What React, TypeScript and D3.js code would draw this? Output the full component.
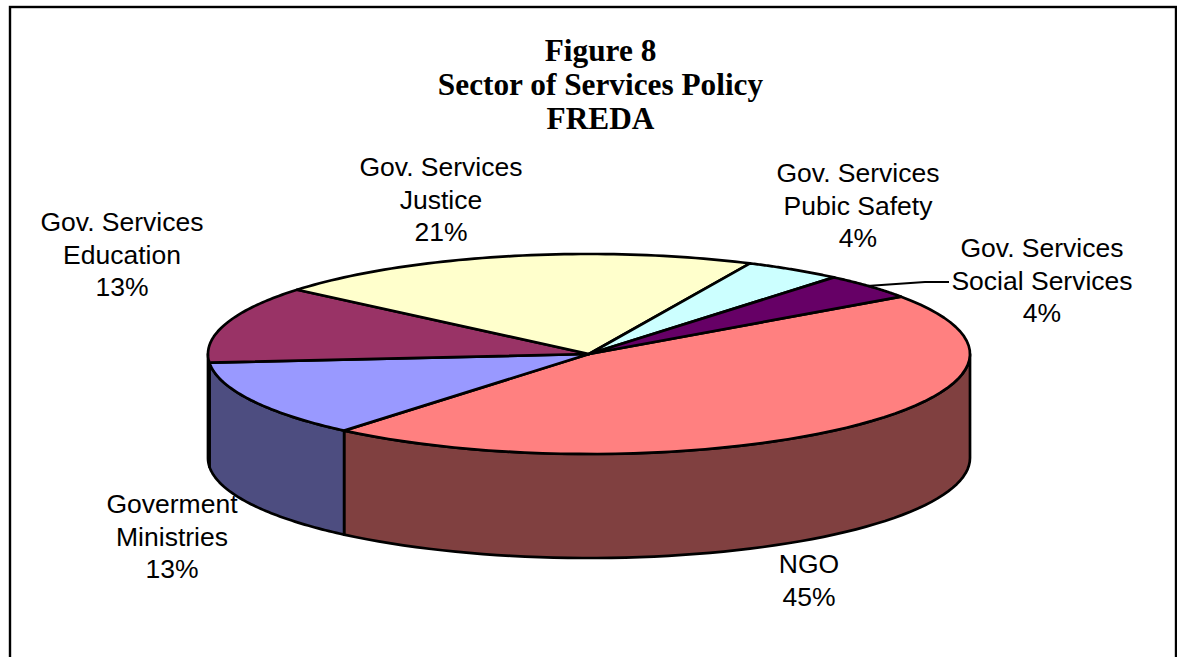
import React from "react";
import * as d3 from "d3";

const titleLines = ["Figure 8", "Sector of Services Policy", "FREDA"];
const categories = [
  ["NGO"],
  ["Goverment", "Ministries"],
  ["Gov. Services", "Education"],
  ["Gov. Services", "Justice"],
  ["Gov. Services", "Pubic Safety"],
  ["Gov. Services", "Social Services"],
];
const sliceShares = [11, 3, 3, 5, 1, 1];
const percentLabels = ["45%", "13%", "13%", "21%", "4%", "4%"];
const topColors = ["#FF8080", "#9999FF", "#993366", "#FFFFCC", "#CCFFFF", "#660066"];
const wallColors = ["#804040", "#4D4D80", "#4D1A33", "#808066", "#668080", "#330033"];

const W = 1177, H = 657;
const cx = 589, cy = 354, rx = 381, ry = 100, depth = 104;
const startDeg = -35; // clockwise from east, on the ellipse

const labelPlaces: [number, number][] = [
  [809, 573],
  [172, 513],
  [122, 231],
  [441, 176],
  [858, 182],
  [1042, 257],
];

const px = d3.scaleLinear().domain([-1, 1]).range([cx - rx, cx + rx]);
const py = d3.scaleLinear().domain([-1, 1]).range([cy - ry, cy + ry]);
const rad = (d: number) => (d * Math.PI) / 180;

const pie = d3.pie<number>().sort(null).startAngle(rad(startDeg)).endAngle(rad(startDeg + 360));
const arcs = pie(sliceShares).map((a) => ({ a0: (a.startAngle * 180) / Math.PI, a1: (a.endAngle * 180) / Math.PI }));

const line = d3.line<[number, number]>();
const rim = (a0: number, a1: number, dy = 0): [number, number][] =>
  d3.range(0, 61).map((i) => {
    const t = rad(a0 + ((a1 - a0) * i) / 60);
    return [px(Math.cos(t)), py(Math.sin(t)) + dy];
  });

// Part of a slice's angular span that lies on the front half of the disc
function frontSpan(a0: number, a1: number): [number, number] | null {
  for (const [lo, hi] of [[-360, -180], [0, 180], [360, 540]]) {
    const s = Math.max(a0, lo), e = Math.min(a1, hi);
    if (e > s) return [s, e];
  }
  return null;
}

export default function App() {
  return (
    <svg width={W} height={H} viewBox={`0 0 ${W} ${H}`} style={{ position: "absolute", left: 0, top: 0, background: "#fff" }}>
      <rect x={10} y={7} width={1166} height={H + 20} fill="#fff" stroke="#000" strokeWidth={2.4} />
      {titleLines.map((t, i) => (
        <text key={t} x={600.5} y={61 + i * 34.2} textAnchor="middle" fontFamily="'Liberation Serif'" fontWeight="bold" fontSize={31.3} fill="#000">
          {t}
        </text>
      ))}
      {arcs.map((a, i) => {
        const span = frontSpan(a.a0, a.a1);
        if (!span) return null;
        const upper = rim(span[0], span[1]);
        const lower = rim(span[1], span[0], depth);
        return <path key={i} d={line([...upper, ...lower])! + "Z"} fill={wallColors[i]} stroke="#000" strokeWidth={2.7} strokeLinejoin="round" />;
      })}
      {arcs.map((a, i) => (
        <path key={i} d={line([[cx, cy], ...rim(a.a0, a.a1)])! + "Z"} fill={topColors[i]} stroke="#000" strokeWidth={2.7} strokeLinejoin="round" />
      ))}
      <path d={line([[867, 286], [925, 282], [949, 282]])!} fill="none" stroke="#000" strokeWidth={2} />
      {categories.map((lines, i) => (
        <text key={i} textAnchor="middle" fontFamily="'Liberation Sans'" fontSize={26.5} fill="#000">
          {[...lines, percentLabels[i]].map((t, j) => (
            <tspan key={j} x={labelPlaces[i][0]} y={labelPlaces[i][1] + j * 32.5}>{t}</tspan>
          ))}
        </text>
      ))}
    </svg>
  );
}
